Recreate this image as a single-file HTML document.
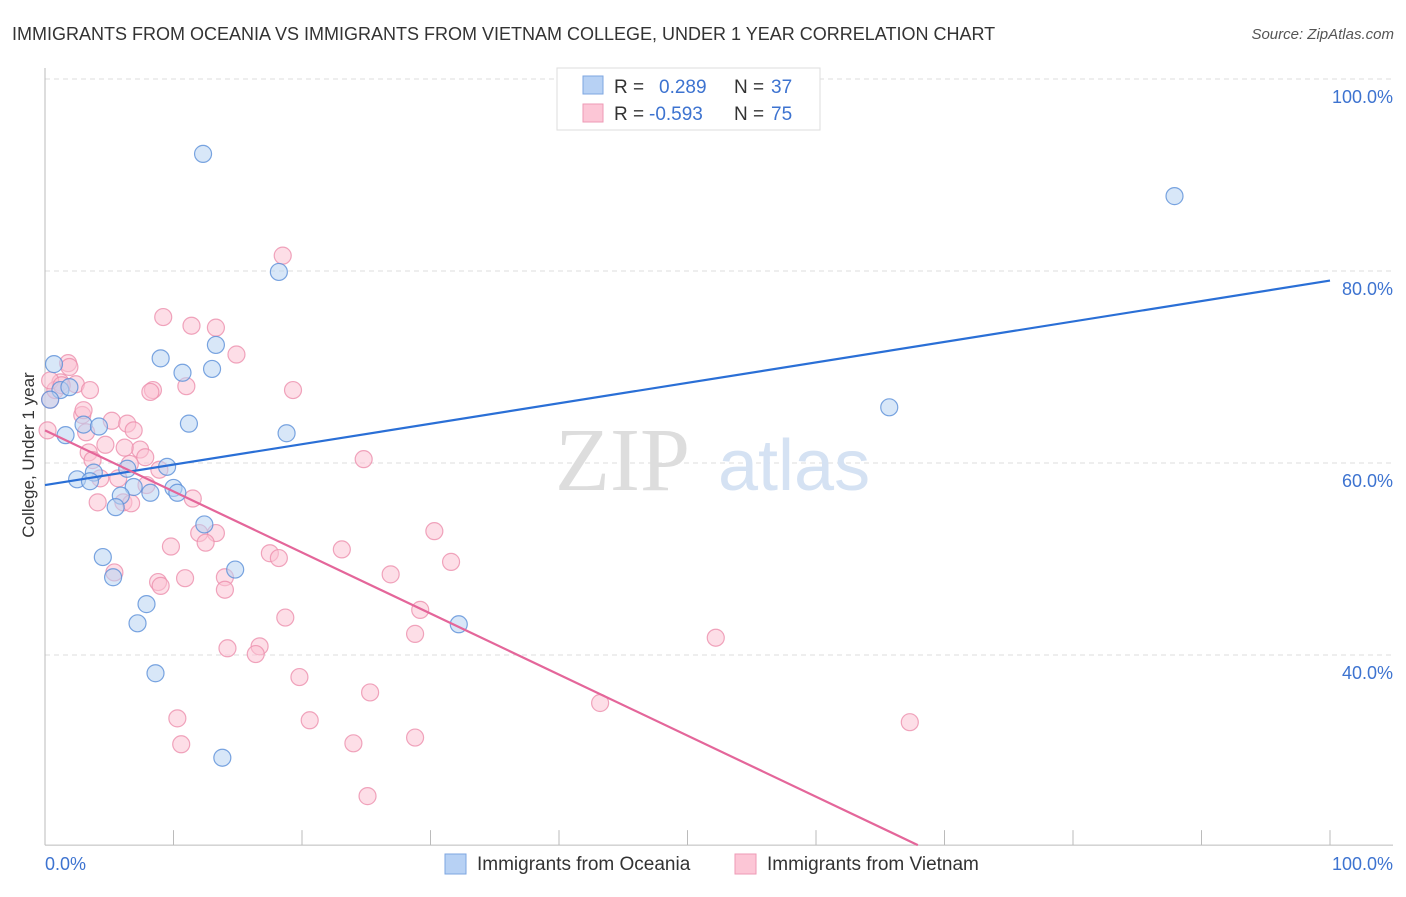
<!DOCTYPE html>
<html><head><meta charset="utf-8"><style>
body{margin:0;background:#fff;font-family:"Liberation Sans",sans-serif;}
</style></head><body>
<svg width="1406" height="892" xmlns="http://www.w3.org/2000/svg" font-family="Liberation Sans, sans-serif">
<text x="12" y="40" font-size="18" fill="#333">IMMIGRANTS FROM OCEANIA VS IMMIGRANTS FROM VIETNAM COLLEGE, UNDER 1 YEAR CORRELATION CHART</text>
<text x="1394" y="39" font-size="15" fill="#555" text-anchor="end" font-style="italic">Source: ZipAtlas.com</text>
<g id="grid"></g>
<text x="555" y="490" font-size="90" fill="#ddd" font-family="Liberation Serif, serif">ZIP</text>
<text x="718" y="490" font-size="72" fill="#d5e2f3">atlas</text>
<g id="pts"></g>
<g id="lines"></g>
<text transform="translate(34,455) rotate(-90)" font-size="17" fill="#333" text-anchor="middle">College, Under 1 year</text>
<g>
<rect x="557" y="68" width="263" height="62" fill="#fff" stroke="#ddd"/>
<rect x="583" y="76" width="20" height="18" fill="#b7d1f4" stroke="#7ea6e0"/>
<rect x="583" y="104" width="20" height="18" fill="#fcc6d6" stroke="#ee9ab5"/>
<text x="614" y="93" font-size="19" fill="#333">R =</text>
<text x="659" y="93" font-size="19" fill="#3d73d0">0.289</text>
<text x="734" y="93" font-size="19" fill="#333">N =</text>
<text x="771" y="93" font-size="19" fill="#3d73d0">37</text>
<text x="614" y="120" font-size="19" fill="#333">R =</text>
<text x="649" y="120" font-size="19" fill="#3d73d0">-0.593</text>
<text x="734" y="120" font-size="19" fill="#333">N =</text>
<text x="771" y="120" font-size="19" fill="#3d73d0">75</text>
</g>
<g>
<rect x="445" y="854" width="21" height="20" fill="#b7d1f4" stroke="#7ea6e0"/>
<text x="477" y="870" font-size="19" fill="#333">Immigrants from Oceania</text>
<rect x="735" y="854" width="21" height="20" fill="#fcc6d6" stroke="#ee9ab5"/>
<text x="767" y="870" font-size="19" fill="#333">Immigrants from Vietnam</text>
</g>
<text x="45" y="870" font-size="18" fill="#3d73d0">0.0%</text>
<text x="1393" y="870" font-size="18" fill="#3d73d0" text-anchor="end">100.0%</text>
</svg>
<script>
const blueX=[12.3,87.9,18.2,9.0,13.3,10.7,13.0,0.7,1.2,65.7,11.2,18.8,1.6,3.0,4.2,9.5,6.4,3.8,2.5,3.5,6.9,10.0,8.2,5.9,10.3,5.5,12.4,4.5,14.8,5.3,7.9,7.2,32.2,8.6,13.8,0.4,1.9];
const blueY=[92.2,87.8,79.9,70.9,72.3,69.4,69.8,70.3,67.6,65.8,64.1,63.1,62.9,64.0,63.8,59.6,59.4,59.0,58.3,58.1,57.5,57.4,56.9,56.6,56.9,55.4,53.6,50.2,48.9,48.1,45.3,43.3,43.2,38.1,29.3,66.6,67.9];
const pinkX=[18.5,9.2,11.4,13.3,14.9,1.8,1.9,1.2,2.4,3.5,8.4,8.2,11.0,19.3,2.9,5.2,6.4,3.2,6.9,4.7,3.4,7.4,6.2,7.8,24.8,4.3,5.7,7.9,11.5,6.1,4.1,6.7,30.3,13.3,12.0,9.8,12.5,23.1,17.5,18.2,31.6,26.9,5.4,14.0,10.9,8.8,9.0,14.0,29.2,18.7,28.8,52.2,14.2,16.7,16.4,19.8,25.3,43.2,10.3,20.6,67.3,10.6,24.0,28.8,25.1,0.2,0.4,3.0,0.8,6.6,8.9,0.4,1.3,3.7];
const pinkY=[81.6,75.2,74.3,74.1,71.3,70.4,70.0,68.4,68.2,67.6,67.6,67.4,68.0,67.6,65.0,64.4,64.1,63.2,63.4,61.9,61.1,61.4,61.6,60.6,60.4,58.4,58.4,57.7,56.3,55.9,55.9,55.8,52.9,52.7,52.7,51.3,51.7,51.0,50.6,50.1,49.7,48.4,48.6,48.1,48.0,47.6,47.2,46.8,44.7,43.9,42.2,41.8,40.7,40.9,40.1,37.7,36.1,35.0,33.4,33.2,33.0,30.7,30.8,31.4,25.3,63.4,66.6,65.5,67.6,59.9,59.3,68.6,68.1,60.3];
const blueTrend=[57.7,79.0];
const pinkTrend=[63.4,-0.636];
const yTicks=[40,60,80,100];
const yTickLabels=["40.0%","60.0%","80.0%","100.0%"];
const xTicks=[10,20,30,40,50,60,70,80,90,100];
const NS="http://www.w3.org/2000/svg";
const X=v=>45+v*12.85, Y=v=>1039-v*9.6;
const yMin=20.2;
function mk(t,a,p){const e=document.createElementNS(NS,t);for(const k in a)e.setAttribute(k,a[k]);document.getElementById(p).appendChild(e);return e;}
const g='grid';
yTicks.forEach((t,i)=>{
 const l=mk('line',{x1:45,x2:1393,y1:Y(t),y2:Y(t),stroke:'#ddd','stroke-dasharray':'5,4'},g);
 
 
 const tx=mk('text',{x:1393,y:Y(t)+24,'font-size':18,fill:'#3d73d0','text-anchor':'end'},g);
 tx.textContent=yTickLabels[i];
 
 
});
const ax=mk('line',{x1:45,x2:45,y1:68,y2:Y(yMin),stroke:'#bbb'},g);


const bx=mk('line',{x1:45,x2:1393,y1:Y(yMin),y2:Y(yMin),stroke:'#bbb'},g);


xTicks.forEach(t=>{
 const l=mk('line',{x1:X(t),x2:X(t),y1:Y(yMin)-15,y2:Y(yMin),stroke:'#bbb'},g);
 
 
});
function pts(xs,ys,fill,stroke,name){xs.forEach((x,i)=>{
 const c=mk('circle',{cx:X(x),cy:Y(ys[i]),r:8.5,fill:fill,'fill-opacity':0.55,stroke:stroke,'stroke-width':1.2,'stroke-opacity':0.8},'pts');
 
 
});}
pts(pinkX,pinkY,'#fbc3d4','#ec8fac','point-vietnam');
pts(blueX,blueY,'#b8d3f3','#5a8fd8','point-oceania');
const bl=mk('line',{x1:X(0),y1:Y(blueTrend[0]),x2:X(100),y2:Y(blueTrend[1]),stroke:'#2a6fd6','stroke-width':2.2},'lines');


const xe=(yMin-pinkTrend[0])/pinkTrend[1];
const pl=mk('line',{x1:X(0),y1:Y(pinkTrend[0]),x2:X(xe),y2:Y(yMin),stroke:'#e4669a','stroke-width':2.2},'lines');


</script>
</body></html>
